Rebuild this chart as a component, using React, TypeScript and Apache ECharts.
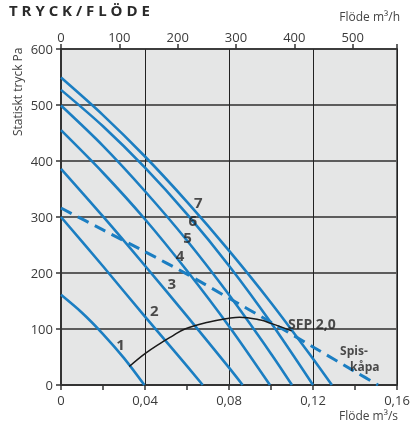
import React, { useEffect, useRef } from "react";
import * as echarts from "echarts";

// Flow in m³/s, static pressure in Pa
const fan1: [number, number][] = [[0, 161], [0.01, 129], [0.02, 91], [0.03, 48], [0.0397, 0]];
const fan2: [number, number][] = [[0, 300], [0.02, 212], [0.04, 122], [0.055, 56], [0.0675, 0]];
const fan3: [number, number][] = [[0, 386], [0.02, 301], [0.04, 213], [0.06, 123], [0.08, 31], [0.0865, 0]];
const fan4: [number, number][] = [[0, 455], [0.02, 379], [0.04, 296], [0.06, 204], [0.08, 105], [0.0995, 0]];
const fan5: [number, number][] = [[0, 499], [0.02, 427], [0.04, 346], [0.06, 258], [0.08, 161], [0.1, 56], [0.11, 0]];
const fan6: [number, number][] = [[0, 527], [0.02, 462], [0.04, 388], [0.06, 305], [0.08, 213], [0.1, 111], [0.12, 0]];
const fan7: [number, number][] = [[0, 549], [0.02, 482], [0.04, 408], [0.06, 327], [0.08, 240], [0.1, 147], [0.12, 47], [0.129, 0]];
const spiskapa: [number, number][] = [[0, 316], [0.02, 277], [0.04, 238], [0.06, 198], [0.08, 155], [0.1, 112], [0.12, 68], [0.14, 24], [0.151, 0]];
const sfp: [number, number][] = [[0.0325, 33], [0.04, 56], [0.0471, 74], [0.0524, 86], [0.059, 100], [0.07, 112], [0.08, 119], [0.085, 121], [0.095, 116], [0.1, 110], [0.1098, 97]];

const curveNames = ["1", "2", "3", "4", "5", "6", "7"];
const curveLabelQ = [0.0283, 0.0444, 0.0527, 0.0567, 0.0603, 0.0627, 0.0654];
const curveLabelP = [74, 134, 182, 232, 265, 295, 327];

const sfpText = "SFP 2,0";
const sfpLabelPos = [0.1195, 110];
const hoodText = ["Spis-", "kåpa"];
const hoodLabelPos = [0.1329, 47];

const yTicks = [0, 100, 200, 300, 400, 500, 600];
const m3hMax = 576; // 0.16 m³/s = 576 m³/h

const FONT = "'Open Sans', 'Noto Sans', sans-serif";
const BLUE = "#1b7ec2";

export default function App() {
  const ref = useRef<HTMLDivElement>(null);
  useEffect(() => {
    if (!ref.current) return;
    const chart = echarts.init(ref.current, undefined, { renderer: "svg" });
    const fans = [fan1, fan2, fan3, fan4, fan5, fan6, fan7];
    const series: any[] = fans.map((d, i) => ({
      type: "line",
      name: "Kurva " + curveNames[i],
      data: d,
      smooth: 0.3,
      symbol: "none",
      lineStyle: { color: BLUE, width: 2.6 },
      z: 3,
    }));
    series.push({
      type: "line",
      name: "Spiskåpa",
      data: spiskapa,
      smooth: 0.3,
      symbol: "none",
      lineStyle: { color: BLUE, width: 3, type: [12, 7] },
      z: 3,
    });
    series.push({
      type: "line",
      name: "SFP 2,0",
      data: sfp,
      smooth: 0.4,
      symbol: "none",
      lineStyle: { color: "#1a1a1a", width: 1.5 },
      z: 4,
    });
    series.push({
      type: "scatter",
      name: "curveLabels",
      symbolSize: 0,
      data: curveNames.map((n, i) => [curveLabelQ[i], curveLabelP[i], n]),
      label: {
        show: true,
        position: "inside",
        formatter: (p: any) => p.data[2],
        fontFamily: FONT,
        fontWeight: "bold",
        fontSize: 15,
        color: "#222",
      },
      z: 5,
    });
    series.push({
      type: "scatter",
      name: "sfpLabel",
      symbolSize: 0,
      data: [[sfpLabelPos[0], sfpLabelPos[1], sfpText]],
      label: {
        show: true,
        position: "inside",
        formatter: (p: any) => p.data[2],
        fontFamily: FONT,
        fontWeight: "bold",
        fontSize: 14,
        color: "#222",
      },
      z: 5,
    });
    series.push({
      type: "scatter",
      name: "hoodLabel",
      symbolSize: 0,
      data: [[hoodLabelPos[0], hoodLabelPos[1]]],
      label: {
        show: true,
        position: "right",
        distance: 0,
        align: "left",
        verticalAlign: "middle",
        formatter: () => `{a|${hoodText[0]}}\n{b|${hoodText[1]}}`,
        rich: {
          a: { fontFamily: FONT, fontWeight: "bold", fontSize: 12, color: "#222", lineHeight: 16 },
          b: { fontFamily: FONT, fontWeight: "bold", fontSize: 12, color: "#222", lineHeight: 16, padding: [0, 0, 0, 10] },
        },
      },
      z: 5,
    });

    chart.setOption({
      animation: false,
      grid: {
        left: 61,
        right: 16,
        top: 49,
        bottom: 38,
        show: true,
        backgroundColor: "#e5e6e6",
        borderColor: "#3a3a3a",
        borderWidth: 1.5,
      },
      xAxis: [
        {
          type: "value",
          position: "bottom",
          min: 0,
          max: 0.16,
          interval: 0.04,
          axisLine: { show: true, lineStyle: { color: "#333", width: 2 } },
          axisTick: { show: true, length: 5, lineStyle: { color: "#333", width: 1.5 } },
          minorTick: { show: true, splitNumber: 2, length: 5, lineStyle: { color: "#333", width: 1.5 } },
          splitLine: { show: true, lineStyle: { color: "#222", width: 1 } },
          axisLabel: {
            margin: 8,
            fontFamily: FONT,
            fontSize: 13,
            lineHeight: 14,
            color: "#3a3a3a",
            formatter: (v: number) => (v === 0 ? "0" : v.toFixed(2).replace(".", ",")),
          },
        },
        {
          type: "value",
          position: "top",
          min: 0,
          max: m3hMax,
          interval: 100,
          axisLine: { show: true, lineStyle: { color: "#333", width: 1.5 } },
          axisTick: { show: true, length: 5, lineStyle: { color: "#333", width: 1.5 } },
          splitLine: { show: false },
          axisLabel: {
            margin: 6,
            fontFamily: FONT,
            fontSize: 13,
            color: "#3a3a3a",
            formatter: (v: number) => (v % 100 === 0 ? String(v) : ""),
          },
        },
      ],
      yAxis: {
        type: "value",
        min: 0,
        max: 600,
        interval: 100,
        axisLine: { show: true, lineStyle: { color: "#333", width: 2 } },
        axisTick: { show: true, length: 5, lineStyle: { color: "#333", width: 1.5 } },
        splitLine: { show: true, lineStyle: { color: "#5c5c5c", width: 2 } },
        axisLabel: {
          margin: 8,
          fontFamily: FONT,
          fontSize: 13,
          color: "#3a3a3a",
          formatter: (v: number) => (yTicks.includes(v) ? String(v) : ""),
        },
      },
      graphic: [
        {
          type: "text",
          left: 9,
          top: 2,
          style: {
            text: "T R Y C K / F L Ö D E",
            font: `bold 15px ${FONT}`,
            fill: "#2a2a2a",
          },
        },
        {
          type: "text",
          right: 13,
          top: 10,
          style: {
            text: "Flöde m³/h",
            font: `12px ${FONT}`,
            fill: "#444",
          },
        },
        {
          type: "text",
          right: 15,
          top: 409,
          style: {
            text: "Flöde m³/s",
            font: `12px ${FONT}`,
            lineHeight: 13,
            fill: "#444",
          },
        },
        {
          type: "text",
          x: 11,
          y: 136,
          rotation: Math.PI / 2,
          style: {
            text: "Statiskt tryck Pa",
            font: `12px ${FONT}`,
            fill: "#444",
            align: "left",
            verticalAlign: "top",
          },
        },
      ],
      series,
    });
    return () => chart.dispose();
  }, []);
  return (
    <div
      ref={ref}
      style={{ position: "fixed", left: 0, top: 0, width: 413, height: 423 }}
    />
  );
}
